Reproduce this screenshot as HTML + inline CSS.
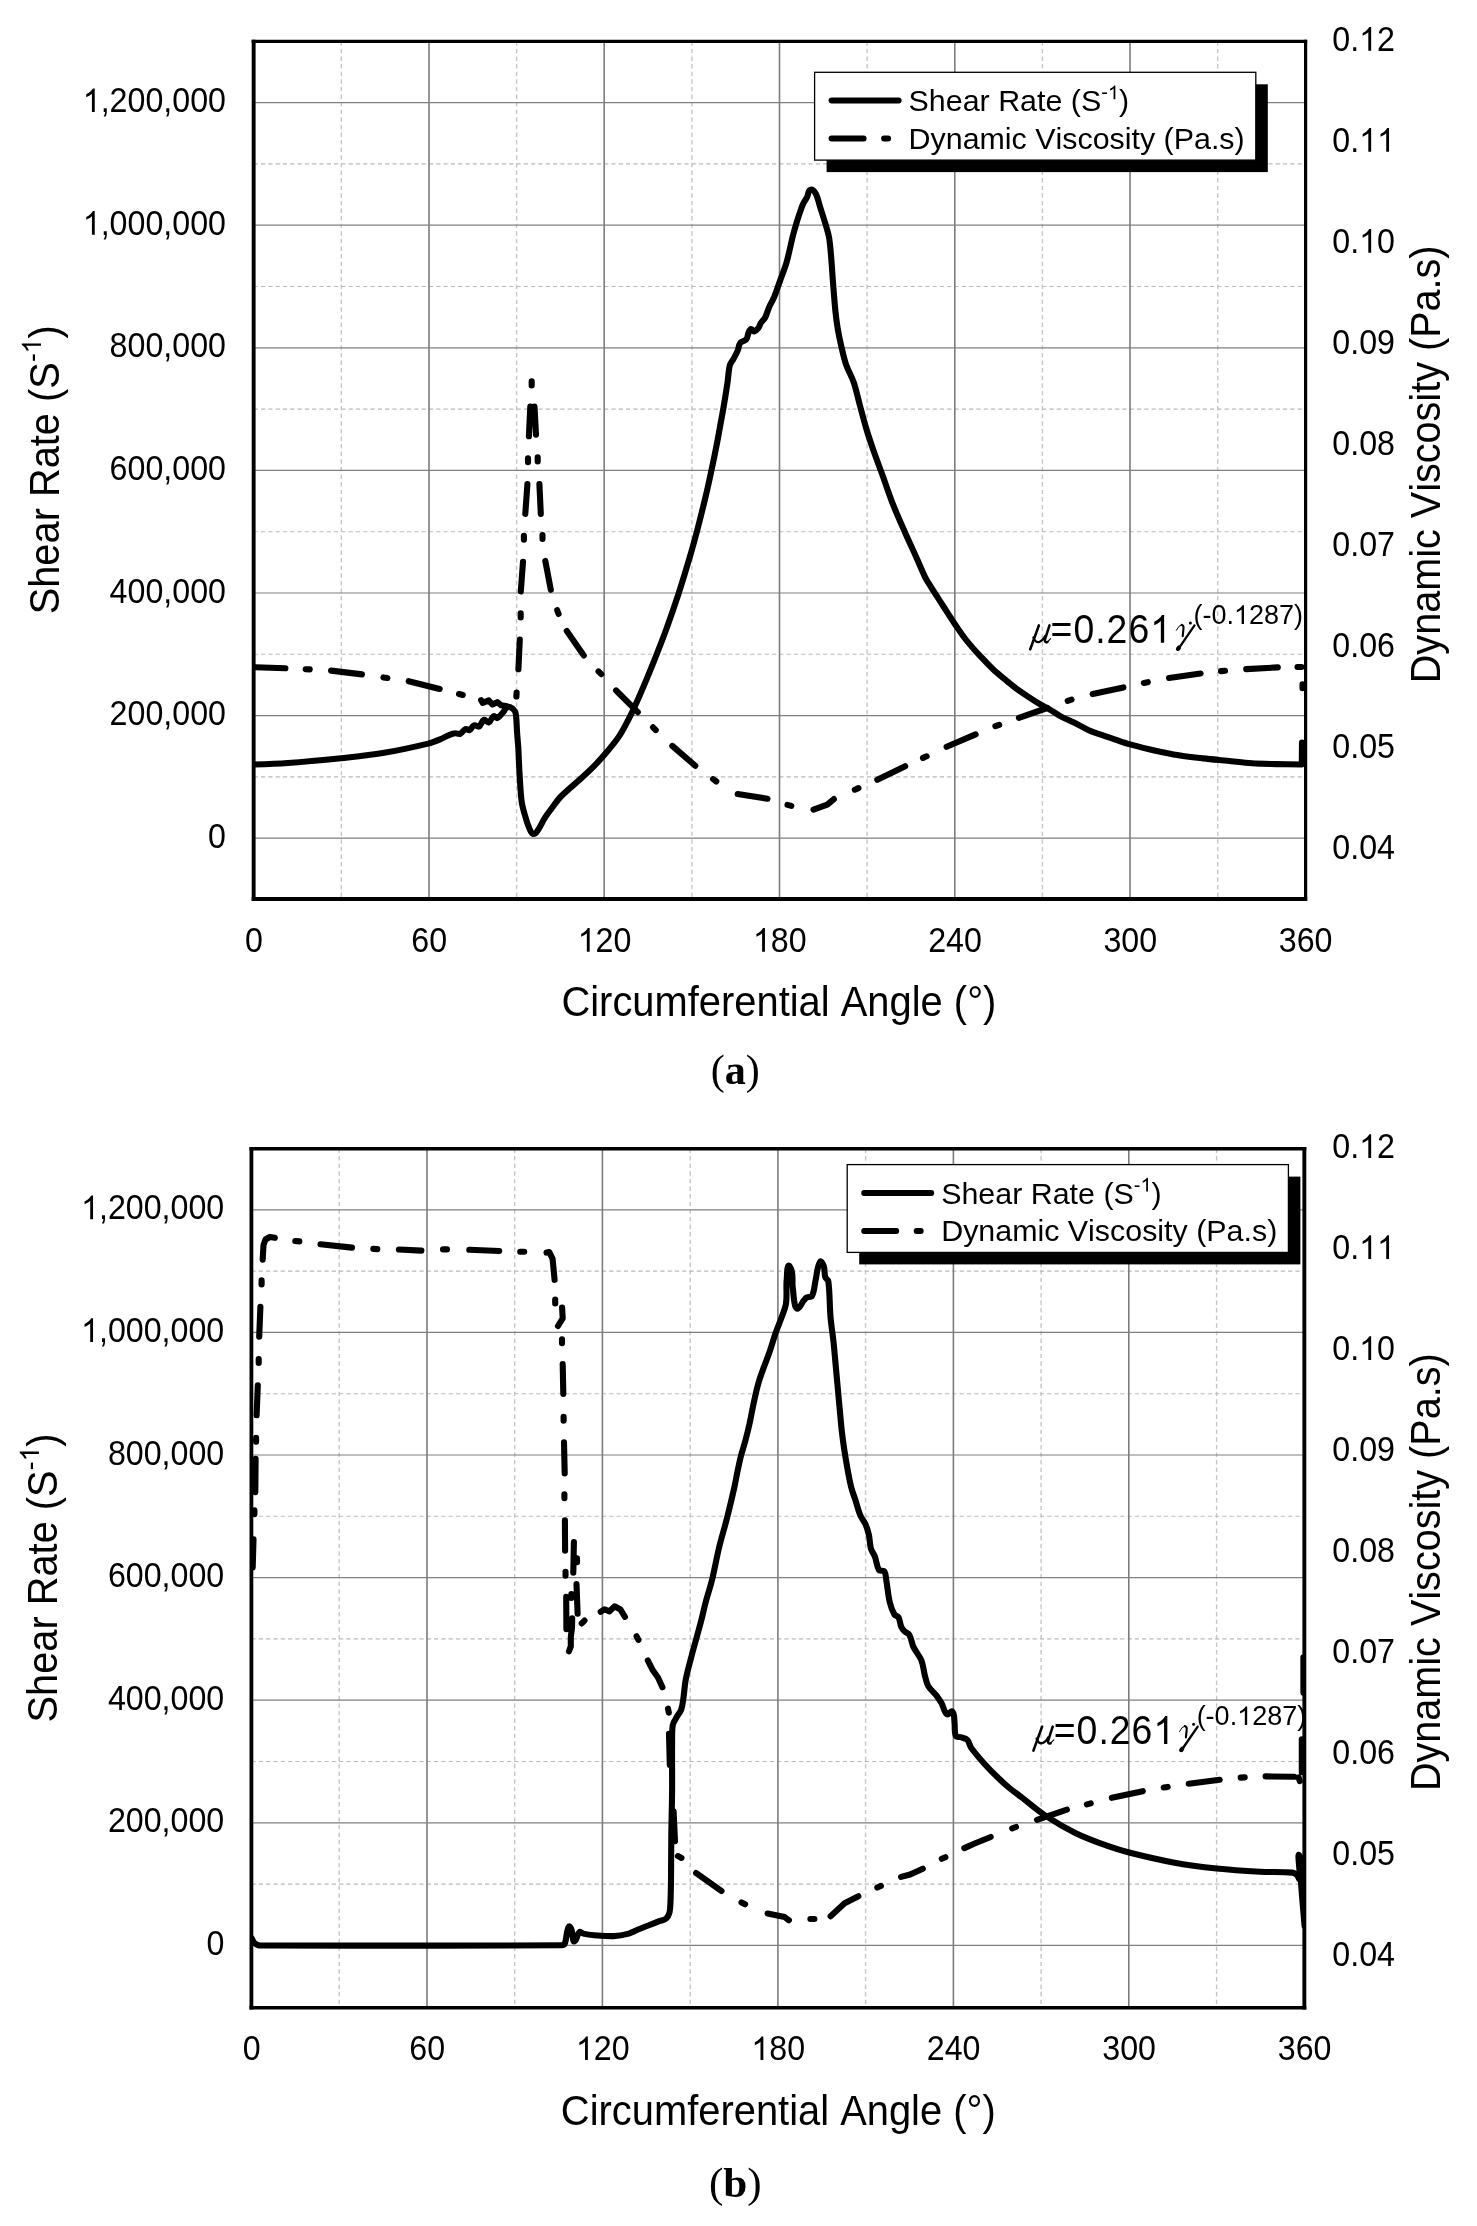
<!DOCTYPE html><html><head><meta charset="utf-8"><title>Shear rate and dynamic viscosity vs circumferential angle</title><style>html,body{margin:0;padding:0;background:#fff;}svg{display:block;}text{font-kerning:none;}svg{will-change:transform;}</style></head><body>
<svg width="1477" height="2226" viewBox="0 0 1477 2226">
<rect x="0" y="0" width="1477" height="2226" fill="#fff"/>
<g id="chart-a">
<clipPath id="clipa"><rect x="253.7" y="41.3" width="1051.6" height="858.2"/></clipPath>
<path d="M341.3,41.3V899.5M516.6,41.3V899.5M691.9,41.3V899.5M867.1,41.3V899.5M1042.4,41.3V899.5M1217.7,41.3V899.5" stroke="#c6c6c6" stroke-width="1.4" stroke-dasharray="4.4 3.2" fill="none"/>
<path d="M253.7,776.9H1305.3M253.7,654.3H1305.3M253.7,531.7H1305.3M253.7,409.1H1305.3M253.7,286.5H1305.3M253.7,163.9H1305.3" stroke="#bababa" stroke-width="1.1" stroke-dasharray="4.2 3.1" fill="none"/>
<path d="M429.0,41.3V899.5M604.2,41.3V899.5M779.5,41.3V899.5M954.8,41.3V899.5M1130.0,41.3V899.5" stroke="#7c7c7c" stroke-width="1.6" fill="none"/>
<path d="M253.7,838.2H1305.3M253.7,715.6H1305.3M253.7,593.0H1305.3M253.7,470.4H1305.3M253.7,347.8H1305.3M253.7,225.2H1305.3M253.7,102.6H1305.3" stroke="#808080" stroke-width="1.2" fill="none"/>
<path clip-path="url(#clipa)" d="M255.0,667.2 L285.4,668.3M331.1,670.6 L362.0,674.4M408.7,681.2 L439.7,689.0M481.1,700.2 L482.7,702.8 L488.8,700.4 L492.4,704.6 L497.3,702.2 L500.9,705.2 L506.0,706.0 L507.7,706.6M518.4,669.3 L519.8,639.6M520.8,591.4 L523.0,561.7M525.3,513.9 L527.4,484.1M528.9,436.3 L530.3,406.6M534.5,406.6 L536.0,434.7M539.4,484.1 L540.8,513.9M545.3,560.9 L550.8,589.8M566.8,631.0 L583.8,655.5M616.1,690.5 L637.8,712.2M672.3,745.9 L695.3,765.8M737.6,794.1 L767.5,798.7M813.5,809.7 L827.3,804.7 L833.9,799.1M877.3,779.7 L905.2,766.3M946.6,746.8 L975.6,734.4M1018.9,717.8 L1047.2,708.0M1092.7,694.1 L1123.4,687.4M1169.0,678.0 L1200.6,673.5M1246.2,669.1 L1277.8,667.4M305.7,669.2 L309.7,669.4M383.4,677.4 L387.4,678.0M459.0,694.0 L462.8,695.0M516.4,696.5 L516.6,692.5M520.7,613.4 L520.7,617.4M523.9,535.8 L523.9,539.8M528.0,458.2 L528.0,462.2M531.7,381.4 L531.7,385.4M537.7,457.4 L537.7,461.4M542.5,535.0 L542.5,539.0M557.2,610.2 L558.6,614.0M598.5,671.4 L601.3,674.2M653.0,727.3 L655.8,730.1M713.1,779.1 L716.3,781.5M787.5,804.9 L791.3,805.9M854.8,789.7 L858.4,788.1M923.0,757.9 L926.6,756.3M995.4,726.2 L999.2,724.8M1067.7,700.9 L1071.5,699.7M1143.8,683.0 L1147.8,682.2M1221.0,671.1 L1225.0,670.7M1297.5,667.0 L1301.5,667.0M1302.5,684.3 L1302.5,688.3" stroke="#000" stroke-width="6.1" fill="none" stroke-linecap="round" stroke-linejoin="round"/>
<path clip-path="url(#clipa)" d="M253.7,764.5C253.7,764.5 276.5,763.8 287.9,763.0C305.6,761.7 323.3,760.0 341.0,758.2C354.9,756.7 368.9,755.4 382.7,753.1C398.0,750.5 413.1,747.2 428.2,743.6C432.3,742.6 436.1,741.0 440.0,739.4C443.1,738.1 446.0,736.3 449.1,735.1C451.1,734.3 453.1,733.5 455.2,733.3C456.8,733.1 458.6,734.5 460.1,733.9C462.4,733.0 463.3,729.9 465.6,729.0C466.8,728.5 468.1,730.7 469.3,730.2C471.4,729.3 472.0,726.1 474.1,725.3C475.7,724.7 477.5,727.4 479.0,726.6C481.4,725.3 481.4,721.0 483.9,719.9C485.6,719.2 487.1,722.9 488.8,722.3C491.2,721.4 491.3,717.4 493.6,716.2C494.8,715.6 496.1,718.6 497.3,718.0C500.2,716.7 501.9,713.7 504.0,711.3C504.8,710.4 504.8,709.0 505.8,708.3C507.0,707.5 508.7,706.6 510.1,707.1C512.1,707.8 513.9,709.4 515.0,711.3C516.1,713.1 516.0,715.3 516.2,717.4C516.7,722.5 516.7,727.6 517.1,732.7C517.4,737.7 518.0,742.7 518.3,747.7C518.8,756.7 519.0,765.8 519.6,774.8C520.2,783.8 520.5,792.9 521.7,801.9C522.4,806.9 523.9,811.7 525.3,816.5C526.4,820.5 527.6,824.5 529.3,828.3C530.3,830.4 531.0,833.5 533.3,834.0C535.2,834.4 536.7,831.8 537.9,830.2C540.6,826.4 542.2,822.0 544.7,818.1C546.8,814.8 549.2,811.7 551.5,808.6C554.6,804.5 557.3,800.2 560.9,796.5C567.3,790.0 574.5,784.4 581.2,778.2C585.8,774.0 590.4,769.8 594.8,765.3C599.0,761.0 603.1,756.4 607.0,751.8C611.2,746.7 615.6,741.7 619.2,736.2C623.2,730.1 626.5,723.5 629.8,716.9C633.5,709.6 636.8,702.0 640.1,694.5C644.5,684.4 648.7,674.3 652.8,664.1C657.4,652.6 662.0,641.1 666.2,629.5C670.6,617.4 674.8,605.2 678.8,593.0C682.5,581.5 686.0,570.0 689.4,558.4C692.2,549.0 694.8,539.5 697.3,530.0C699.9,520.0 702.4,510.0 704.8,500.0C707.2,490.1 709.4,480.1 711.5,470.1C713.6,460.3 715.6,450.5 717.5,440.6C719.6,429.6 721.6,418.6 723.5,407.6C724.9,399.5 726.2,391.4 727.4,383.3C728.3,377.2 728.4,371.0 729.9,365.0C730.5,362.7 732.4,361.0 733.5,358.9C735.0,356.1 736.6,353.3 737.8,350.4C738.8,348.0 738.6,345.1 740.2,343.0C741.6,341.1 744.8,341.3 746.3,339.4C747.9,337.4 747.6,334.4 748.7,332.1C749.3,330.9 749.9,329.1 751.2,329.0C752.5,328.9 752.9,331.7 754.2,331.5C756.1,331.2 757.3,329.3 758.5,327.8C759.6,326.4 759.9,324.4 760.9,322.9C762.2,321.0 764.1,319.5 765.2,317.5C766.8,314.4 767.5,310.9 768.9,307.7C770.5,304.0 772.7,300.5 774.3,296.7C776.6,291.1 778.4,285.4 780.4,279.7C782.4,274.0 784.8,268.4 786.5,262.6C788.9,254.2 790.5,245.5 792.6,237.0C793.7,232.5 795.0,228.0 796.3,223.6C797.8,218.7 799.4,213.8 801.1,209.0C801.8,206.9 802.6,204.9 803.6,202.9C804.7,200.8 806.1,198.9 807.2,196.8C808.4,194.5 807.9,190.6 810.3,189.8C812.4,189.1 814.7,191.8 815.8,193.8C818.0,197.7 818.6,202.3 820.0,206.6C822.1,213.1 824.2,219.6 826.1,226.1C827.3,230.1 828.5,234.1 829.2,238.2C830.1,243.9 830.5,249.6 831.0,255.3C831.7,263.4 832.2,271.6 832.8,279.7C833.6,289.8 834.3,300.0 835.3,310.1C835.9,316.2 836.7,322.3 837.7,328.4C838.7,334.5 840.0,340.6 841.4,346.7C842.8,352.8 844.1,359.0 846.2,365.0C848.3,370.9 851.7,376.3 853.7,382.3C856.2,389.7 857.7,397.4 859.8,405.0C862.1,413.3 864.2,421.7 866.7,430.0C868.9,437.4 871.5,444.7 874.0,452.0C876.5,459.1 879.2,466.2 881.8,473.3C885.5,483.4 888.8,493.7 892.7,503.7C896.7,513.9 901.3,523.9 905.7,534.0C908.9,541.2 912.3,548.3 915.5,555.5C918.8,562.8 921.7,570.2 925.2,577.3C927.1,581.1 929.5,584.6 931.7,588.2C935.6,594.4 939.6,600.4 943.5,606.5C947.5,612.7 951.4,618.9 955.5,625.0C958.6,629.6 961.6,634.1 965.0,638.5C968.3,642.8 971.9,646.9 975.5,651.0C978.9,654.8 982.4,658.4 986.0,662.0C989.5,665.6 993.0,669.2 996.7,672.6C1000.2,675.7 1003.9,678.6 1007.5,681.5C1011.1,684.4 1014.6,687.3 1018.3,690.0C1021.8,692.5 1025.4,694.8 1029.0,697.2C1032.6,699.6 1036.3,702.0 1040.0,704.2C1043.8,706.4 1047.7,708.4 1051.5,710.6C1054.5,712.3 1057.2,714.5 1060.3,716.1C1064.7,718.5 1069.4,720.3 1073.9,722.5C1078.9,725.0 1083.6,727.9 1088.7,730.2C1092.6,732.0 1096.8,733.2 1100.9,734.7C1105.4,736.3 1109.9,737.9 1114.5,739.4C1119.7,741.1 1124.8,742.9 1130.0,744.4C1138.1,746.6 1146.2,748.7 1154.4,750.5C1162.5,752.3 1170.6,754.0 1178.7,755.3C1186.8,756.6 1195.0,757.5 1203.1,758.4C1211.2,759.3 1219.4,760.0 1227.5,760.8C1235.6,761.6 1243.7,762.7 1251.9,763.3C1260.0,763.8 1268.1,763.9 1276.2,764.1C1284.7,764.3 1301.8,764.5 1301.8,764.5M1301.8,764.5 L1302.0,742.5" stroke="#000" stroke-width="6.1" fill="none" stroke-linecap="round" stroke-linejoin="round"/>
<path d="M251.70,41.40H1307.20" stroke="#000" stroke-width="3.1"/>
<path d="M251.70,898.95H1307.20" stroke="#000" stroke-width="4.1"/>
<path d="M253.65,39.85V901.00" stroke="#000" stroke-width="3.9"/>
<path d="M1305.60,39.85V901.00" stroke="#000" stroke-width="3.2"/>
<g transform="translate(226.00,847.70) scale(1,1.07)" font-family='"Liberation Sans", sans-serif'><text x="-17.91" y="0.00" font-size="32.2" >0</text></g>
<g transform="translate(226.00,725.10) scale(1,1.07)" font-family='"Liberation Sans", sans-serif'><text x="-116.39" y="0.00" font-size="32.2" >200,000</text></g>
<g transform="translate(226.00,602.50) scale(1,1.07)" font-family='"Liberation Sans", sans-serif'><text x="-116.39" y="0.00" font-size="32.2" >400,000</text></g>
<g transform="translate(226.00,479.90) scale(1,1.07)" font-family='"Liberation Sans", sans-serif'><text x="-116.39" y="0.00" font-size="32.2" >600,000</text></g>
<g transform="translate(226.00,357.30) scale(1,1.07)" font-family='"Liberation Sans", sans-serif'><text x="-116.39" y="0.00" font-size="32.2" >800,000</text></g>
<g transform="translate(226.00,234.70) scale(1,1.07)" font-family='"Liberation Sans", sans-serif'><text x="-143.25" y="0.00" font-size="32.2" > ,000,000</text><path transform="translate(-143.25,0.00) scale(0.01572,-0.01572)" d="M763 0L583 0L583 1098Q518 1038 412 979Q306 920 222 890L222 1057Q373 1125 486 1221Q599 1318 646 1409L763 1409Z"/></g>
<g transform="translate(226.00,112.10) scale(1,1.07)" font-family='"Liberation Sans", sans-serif'><text x="-143.25" y="0.00" font-size="32.2" > ,200,000</text><path transform="translate(-143.25,0.00) scale(0.01572,-0.01572)" d="M763 0L583 0L583 1098Q518 1038 412 979Q306 920 222 890L222 1057Q373 1125 486 1221Q599 1318 646 1409L763 1409Z"/></g>
<g transform="translate(1332.30,858.52) scale(1,1.07)" font-family='"Liberation Sans", sans-serif'><text x="0.00" y="0.00" font-size="32.2" >0.04</text></g>
<g transform="translate(1332.30,757.55) scale(1,1.07)" font-family='"Liberation Sans", sans-serif'><text x="0.00" y="0.00" font-size="32.2" >0.05</text></g>
<g transform="translate(1332.30,656.59) scale(1,1.07)" font-family='"Liberation Sans", sans-serif'><text x="0.00" y="0.00" font-size="32.2" >0.06</text></g>
<g transform="translate(1332.30,555.62) scale(1,1.07)" font-family='"Liberation Sans", sans-serif'><text x="0.00" y="0.00" font-size="32.2" >0.07</text></g>
<g transform="translate(1332.30,454.66) scale(1,1.07)" font-family='"Liberation Sans", sans-serif'><text x="0.00" y="0.00" font-size="32.2" >0.08</text></g>
<g transform="translate(1332.30,353.69) scale(1,1.07)" font-family='"Liberation Sans", sans-serif'><text x="0.00" y="0.00" font-size="32.2" >0.09</text></g>
<g transform="translate(1332.30,252.73) scale(1,1.07)" font-family='"Liberation Sans", sans-serif'><text x="0.00" y="0.00" font-size="32.2" >0. 0</text><path transform="translate(26.85,0.00) scale(0.01572,-0.01572)" d="M763 0L583 0L583 1098Q518 1038 412 979Q306 920 222 890L222 1057Q373 1125 486 1221Q599 1318 646 1409L763 1409Z"/></g>
<g transform="translate(1332.30,151.76) scale(1,1.07)" font-family='"Liberation Sans", sans-serif'><text x="0.00" y="0.00" font-size="32.2" >0.  </text><path transform="translate(26.85,0.00) scale(0.01572,-0.01572)" d="M763 0L583 0L583 1098Q518 1038 412 979Q306 920 222 890L222 1057Q373 1125 486 1221Q599 1318 646 1409L763 1409Z"/><path transform="translate(44.76,0.00) scale(0.01572,-0.01572)" d="M763 0L583 0L583 1098Q518 1038 412 979Q306 920 222 890L222 1057Q373 1125 486 1221Q599 1318 646 1409L763 1409Z"/></g>
<g transform="translate(1332.30,50.80) scale(1,1.07)" font-family='"Liberation Sans", sans-serif'><text x="0.00" y="0.00" font-size="32.2" >0. 2</text><path transform="translate(26.85,0.00) scale(0.01572,-0.01572)" d="M763 0L583 0L583 1098Q518 1038 412 979Q306 920 222 890L222 1057Q373 1125 486 1221Q599 1318 646 1409L763 1409Z"/></g>
<g transform="translate(254.00,951.70) scale(1,1.07)" font-family='"Liberation Sans", sans-serif'><text x="-8.95" y="0.00" font-size="32.2" >0</text></g>
<g transform="translate(429.27,951.70) scale(1,1.07)" font-family='"Liberation Sans", sans-serif'><text x="-17.91" y="0.00" font-size="32.2" >60</text></g>
<g transform="translate(604.53,951.70) scale(1,1.07)" font-family='"Liberation Sans", sans-serif'><text x="-26.86" y="0.00" font-size="32.2" > 20</text><path transform="translate(-26.86,0.00) scale(0.01572,-0.01572)" d="M763 0L583 0L583 1098Q518 1038 412 979Q306 920 222 890L222 1057Q373 1125 486 1221Q599 1318 646 1409L763 1409Z"/></g>
<g transform="translate(779.80,951.70) scale(1,1.07)" font-family='"Liberation Sans", sans-serif'><text x="-26.86" y="0.00" font-size="32.2" > 80</text><path transform="translate(-26.86,0.00) scale(0.01572,-0.01572)" d="M763 0L583 0L583 1098Q518 1038 412 979Q306 920 222 890L222 1057Q373 1125 486 1221Q599 1318 646 1409L763 1409Z"/></g>
<g transform="translate(955.07,951.70) scale(1,1.07)" font-family='"Liberation Sans", sans-serif'><text x="-26.86" y="0.00" font-size="32.2" >240</text></g>
<g transform="translate(1130.33,951.70) scale(1,1.07)" font-family='"Liberation Sans", sans-serif'><text x="-26.86" y="0.00" font-size="32.2" >300</text></g>
<g transform="translate(1305.60,951.70) scale(1,1.07)" font-family='"Liberation Sans", sans-serif'><text x="-26.86" y="0.00" font-size="32.2" >360</text></g>
<text transform="translate(778.90,1016.40) scale(1,1.055)" font-family='"Liberation Sans", sans-serif' font-size="39.9" text-anchor="middle" >Circumferential Angle (°)</text>
<g transform="translate(58.80,469.80) rotate(-90) scale(1,1.05)" font-family='"Liberation Sans", sans-serif'><text x="-144.50" y="0.00" font-size="39.8" >Shear Rate (S</text><text x="107.69" y="-17.00" font-size="26.5" >- </text><text x="131.25" y="0.00" font-size="39.8" >)</text><path transform="translate(116.51,-17.00) scale(0.01294,-0.01294)" d="M763 0L583 0L583 1098Q518 1038 412 979Q306 920 222 890L222 1057Q373 1125 486 1221Q599 1318 646 1409L763 1409Z"/></g>
<text transform="translate(1440.30,464.35) rotate(-90) scale(1,1.05)" font-family='"Liberation Sans", sans-serif' font-size="39.6" text-anchor="middle" >Dynamic Viscosity (Pa.s)</text>
<text transform="translate(735.30,1084.00) scale(1,1.0)" font-family='"Liberation Serif", serif' font-size="42.2" text-anchor="middle" >(<tspan font-weight="bold">a</tspan>)</text>
<rect x="826.6" y="84.3" width="441.2" height="87.8" fill="#000"/>
<rect x="814.6" y="72.3" width="441.2" height="87.8" fill="#fff" stroke="#000" stroke-width="1.3"/>
<path d="M831.6,100.6H898.6" stroke="#000" stroke-width="6" stroke-linecap="round"/>
<path d="M831.6,138.6H863.6M884.1,138.6H888.1" stroke="#000" stroke-width="6" stroke-linecap="round"/>
<g transform="translate(908.60,111.20) scale(1,1.0)" font-family='"Liberation Sans", sans-serif'><text x="0.00" y="0.00" font-size="30.4" >Shear Rate (S</text><text x="192.63" y="-12.00" font-size="20" >- </text><text x="210.41" y="0.00" font-size="30.4" >)</text><path transform="translate(199.29,-12.00) scale(0.00977,-0.00977)" d="M763 0L583 0L583 1098Q518 1038 412 979Q306 920 222 890L222 1057Q373 1125 486 1221Q599 1318 646 1409L763 1409Z"/></g>
<text transform="translate(908.60,149.10) scale(1,1.0)" font-family='"Liberation Sans", sans-serif' font-size="30.4" text-anchor="start" >Dynamic Viscosity (Pa.s)</text>
<g transform="translate(0.00,0.00)" fill="none" stroke="#000" stroke-linecap="round"><path d="M1038.9,625.4 L1030.2,649.4" stroke-width="2.6"/><path d="M1033.4,637.5 Q1035.2,643.2 1039.6,641.8 Q1043,640.4 1045.2,636" stroke-width="2.3"/><path d="M1049.5,625.4 L1044.9,639.6 Q1044.6,643 1047.4,642" stroke-width="2.5"/><path d="M1047.4,642 L1050.6,638.6" stroke-width="1.1"/></g>
<g transform="translate(1050.57,642.80) scale(1,1.085)" font-family='"Liberation Sans", sans-serif'><text x="0.00" y="0.00" font-size="37.4" letter-spacing="1.0" >=0.26 </text><path transform="translate(99.63,0.00) scale(0.01826,-0.01826)" d="M763 0L583 0L583 1098Q518 1038 412 979Q306 920 222 890L222 1057Q373 1125 486 1221Q599 1318 646 1409L763 1409Z"/></g>
<g transform="translate(0.00,0.00)" fill="none" stroke="#000" stroke-linecap="round"><path d="M1176.3,630.3 Q1178.8,624.9 1181.9,624.8" stroke-width="1.0"/><path d="M1181.6,624.9 Q1184.1,625.4 1183.4,629.5 L1182.7,636.2" stroke-width="2.1"/><path d="M1194.5,625.4 L1179.8,646.8" stroke-width="2.3"/><ellipse cx="1178.5" cy="648.2" rx="2.2" ry="3.0" transform="rotate(35 1178.5 648.2)" fill="#000" stroke="none"/><circle cx="1190.4" cy="623.1" r="1.5" fill="#000" stroke="none"/></g>
<g transform="translate(1193.43,623.90) scale(1,1.0)" font-family='"Liberation Sans", sans-serif'><text x="0.00" y="0.00" font-size="27.0" >(-0. 287)</text><path transform="translate(40.50,0.00) scale(0.01318,-0.01318)" d="M763 0L583 0L583 1098Q518 1038 412 979Q306 920 222 890L222 1057Q373 1125 486 1221Q599 1318 646 1409L763 1409Z"/></g>
</g>
<g id="chart-b">
<clipPath id="clipb"><rect x="251.5" y="1148.5" width="1052.8" height="858.2"/></clipPath>
<path d="M339.2,1148.5V2006.7M514.7,1148.5V2006.7M690.2,1148.5V2006.7M865.6,1148.5V2006.7M1041.1,1148.5V2006.7M1216.6,1148.5V2006.7" stroke="#c6c6c6" stroke-width="1.4" stroke-dasharray="4.4 3.2" fill="none"/>
<path d="M251.5,1884.1H1304.3M251.5,1761.5H1304.3M251.5,1638.9H1304.3M251.5,1516.3H1304.3M251.5,1393.7H1304.3M251.5,1271.1H1304.3" stroke="#bababa" stroke-width="1.1" stroke-dasharray="4.2 3.1" fill="none"/>
<path d="M427.0,1148.5V2006.7M602.4,1148.5V2006.7M777.9,1148.5V2006.7M953.4,1148.5V2006.7M1128.8,1148.5V2006.7" stroke="#7c7c7c" stroke-width="1.6" fill="none"/>
<path d="M251.5,1945.4H1304.3M251.5,1822.8H1304.3M251.5,1700.2H1304.3M251.5,1577.6H1304.3M251.5,1455.0H1304.3M251.5,1332.4H1304.3M251.5,1209.8H1304.3" stroke="#808080" stroke-width="1.2" fill="none"/>
<path clip-path="url(#clipb)" d="M252.7,1567.4 L253.5,1539.3M255.3,1492.2 L255.6,1458.9M256.6,1415.3 L257.8,1385.4M259.2,1336.7 L260.4,1306.8M262.7,1259.7 L263.5,1245.0 L265.5,1239.5 L269.8,1237.0 L274.9,1237.8M320.5,1244.2 L352.0,1247.6M398.9,1249.5 L421.4,1250.6M469.3,1249.8 L499.2,1251.0M546.5,1252.6 L549.3,1252.1 L552.6,1258.9 L554.6,1279.9M562.1,1307.5 L562.7,1318.4 L558.0,1326.0M562.7,1364.1 L563.3,1393.9M564.0,1442.3 L564.7,1473.4M564.9,1520.3 L565.1,1550.7M566.2,1596.8 L566.4,1629.2M572.2,1618.3 L572.0,1627.5 L570.8,1637.0 L570.8,1646.4 L569.0,1651.3M573.3,1572.7 L573.9,1542.0M576.5,1584.1 L577.6,1613.6M600.7,1611.8 L604.5,1609.3 L609.5,1611.4 L614.5,1606.3 L620.5,1609.5 L624.9,1616.9M647.8,1660.4 L652.7,1670.1 L658.1,1677.7 L662.4,1687.3M669.0,1733.8 L669.8,1764.8M673.6,1811.3 L675.0,1841.1M696.1,1873.0 L721.5,1891.0M767.6,1913.5 L784.7,1917.1 L788.9,1920.2M830.6,1916.2 L844.6,1903.3 L858.4,1896.3M901.1,1876.9 L910.2,1874.5 L922.8,1868.7M964.3,1848.1 L974.7,1843.5 L990.7,1837.0M1037.0,1819.8 L1066.9,1809.7M1111.8,1797.8 L1142.8,1791.2M1188.7,1783.8 L1219.7,1779.8M1265.6,1776.4 L1294.2,1776.8M1301.8,1772.2 L1301.8,1739.3M1303.4,1692.7 L1303.4,1657.3M254.4,1510.3 L254.4,1514.3M256.1,1437.7 L256.1,1441.7M258.7,1359.0 L258.7,1363.0M261.6,1280.4 L261.6,1284.4M295.3,1241.0 L299.3,1241.4M373.3,1248.9 L377.3,1249.1M443.0,1249.4 L447.0,1249.4M520.2,1251.8 L524.2,1251.8M555.2,1299.5 L555.2,1303.5M562.0,1339.3 L562.0,1343.3M563.6,1416.8 L563.6,1420.8M564.4,1494.2 L564.4,1498.2M565.5,1571.7 L565.5,1575.7M577.0,1558.2 L577.0,1562.2M571.4,1594.0 L571.4,1598.0M581.7,1623.4 L584.5,1620.6M636.6,1636.3 L638.4,1639.9M668.0,1708.7 L668.8,1712.7M677.9,1856.1 L681.5,1857.9M741.5,1902.4 L745.1,1904.2M810.4,1919.0 L814.4,1919.0M877.3,1887.5 L880.9,1885.9M941.8,1858.8 L945.4,1857.2M1012.2,1828.4 L1016.0,1827.0M1086.9,1804.4 L1090.7,1803.4M1163.7,1787.5 L1167.7,1786.9M1240.7,1777.6 L1244.7,1777.4M1298.6,1777.3 L1299.8,1781.1" stroke="#000" stroke-width="6.1" fill="none" stroke-linecap="round" stroke-linejoin="round"/>
<path clip-path="url(#clipb)" d="M251.8,1938.5C251.8,1938.5 253.0,1941.4 254.0,1942.5C255.1,1943.7 256.5,1944.6 258.0,1945.2C259.3,1945.7 260.7,1945.5 262.0,1945.5C361.9,1945.5 461.8,1946.0 561.7,1945.3C562.9,1945.3 564.5,1944.6 564.9,1943.4C566.5,1939.1 566.3,1934.2 567.6,1929.8C568.0,1928.6 568.6,1926.0 569.8,1926.6C571.5,1927.5 571.5,1930.1 572.0,1932.0C572.8,1935.0 572.3,1938.4 573.6,1941.2C573.9,1941.9 575.3,1940.8 575.7,1940.1C577.3,1937.6 577.2,1933.9 579.5,1932.0C580.5,1931.1 582.0,1933.3 583.3,1933.6C586.9,1934.4 590.5,1934.9 594.2,1935.2C600.7,1935.7 607.2,1936.4 613.7,1936.1C618.8,1935.9 623.9,1934.9 628.8,1933.6C631.9,1932.8 634.6,1931.0 637.5,1929.8C641.1,1928.3 644.7,1926.9 648.3,1925.5C651.9,1924.1 655.6,1922.6 659.2,1921.2C661.5,1920.3 664.3,1920.1 666.2,1918.5C667.9,1917.0 668.9,1914.7 669.5,1912.5C670.4,1909.0 670.3,1905.3 670.5,1901.7C670.8,1894.5 670.9,1887.2 671.0,1880.0C671.2,1864.9 671.1,1849.9 671.3,1834.8C671.5,1819.5 672.0,1804.3 672.1,1789.0C672.2,1773.7 671.9,1758.5 672.1,1743.2C672.2,1737.1 671.8,1730.9 672.8,1724.9C673.3,1722.1 675.2,1719.8 676.6,1717.3C678.0,1714.7 680.2,1712.4 681.2,1709.6C682.6,1705.7 682.9,1701.5 683.5,1697.4C684.4,1691.3 684.6,1685.1 685.8,1679.1C687.4,1670.9 689.8,1662.8 691.9,1654.7C694.9,1643.5 698.2,1632.3 701.1,1621.1C702.9,1614.4 704.2,1607.7 706.0,1601.0C707.9,1594.0 710.3,1587.1 712.0,1580.0C714.7,1568.9 716.6,1557.7 719.3,1546.6C721.5,1537.7 724.2,1529.0 726.5,1520.1C729.2,1509.4 731.8,1498.7 734.2,1488.0C735.5,1482.3 736.4,1476.6 737.6,1470.9C738.7,1465.8 739.7,1460.7 741.0,1455.7C742.3,1450.8 744.0,1445.9 745.3,1441.0C746.8,1435.3 748.2,1429.6 749.5,1423.9C750.8,1418.3 751.7,1412.6 752.9,1406.9C753.8,1402.6 754.7,1398.3 755.7,1394.0C756.7,1389.7 757.7,1385.4 759.0,1381.2C760.3,1376.9 761.9,1372.6 763.4,1368.4C765.5,1362.7 767.8,1357.1 769.8,1351.3C771.9,1345.3 773.5,1339.1 775.6,1333.0C777.0,1329.0 778.7,1325.2 780.1,1321.2C782.2,1315.3 785.0,1309.6 786.0,1303.4C787.2,1295.6 785.9,1287.6 786.7,1279.7C787.2,1275.1 786.8,1262.7 789.7,1266.3C794.1,1271.7 791.8,1280.2 792.7,1287.1C793.5,1293.0 793.5,1299.1 794.9,1304.9C795.3,1306.4 796.5,1309.3 797.9,1308.6C800.9,1307.1 801.7,1303.0 803.8,1300.4C804.7,1299.3 805.6,1298.1 806.8,1297.4C808.4,1296.6 811.2,1297.6 812.0,1296.0C814.5,1291.0 814.4,1285.1 815.7,1279.7C817.1,1273.8 816.9,1267.1 820.1,1261.9C821.1,1260.3 823.2,1264.5 823.8,1266.3C825.0,1269.8 824.2,1273.8 825.3,1277.4C825.8,1278.9 828.1,1279.5 828.3,1281.1C829.9,1292.9 829.5,1304.9 830.5,1316.7C831.2,1325.1 832.6,1333.5 833.5,1341.9C834.6,1352.3 835.4,1362.7 836.4,1373.1C837.4,1384.0 838.4,1394.8 839.4,1405.7C840.3,1415.6 841.1,1425.5 842.3,1435.4C843.5,1445.3 845.1,1455.2 846.8,1465.0C848.1,1472.4 849.4,1479.9 851.2,1487.2C852.3,1491.6 854.0,1495.7 855.4,1500.0C857.0,1504.9 858.1,1510.0 860.1,1514.8C861.5,1518.2 864.0,1521.0 865.5,1524.3C867.0,1527.7 868.1,1531.3 868.9,1535.0C869.9,1539.4 869.7,1544.1 870.9,1548.5C871.7,1551.4 873.8,1553.8 874.9,1556.6C876.6,1561.0 876.5,1566.1 879.0,1570.1C880.0,1571.7 883.4,1569.9 884.4,1571.4C886.2,1574.1 885.8,1577.7 886.4,1580.9C887.6,1588.0 888.1,1595.3 889.8,1602.4C890.8,1606.6 892.3,1610.8 894.5,1614.6C895.3,1616.0 897.7,1615.9 898.5,1617.3C900.1,1620.2 899.9,1623.7 901.2,1626.7C902.0,1628.5 903.2,1630.0 904.6,1631.4C906.0,1632.8 908.3,1633.1 909.3,1634.8C911.4,1638.5 911.6,1643.0 913.4,1646.9C915.6,1651.6 919.4,1655.5 921.4,1660.4C923.3,1665.1 923.5,1670.3 924.8,1675.2C925.8,1678.8 926.3,1682.7 928.2,1686.0C930.2,1689.6 933.8,1692.1 936.3,1695.4C938.3,1698.0 940.1,1700.7 941.7,1703.5C943.7,1707.0 943.8,1711.9 947.0,1714.3C948.6,1715.5 951.0,1710.1 952.4,1711.6C954.9,1714.3 954.0,1718.8 954.5,1722.4C955.1,1726.9 954.1,1731.7 955.8,1735.9C956.4,1737.4 959.0,1736.7 960.5,1737.2C962.8,1738.0 965.6,1738.2 967.3,1739.9C969.4,1742.0 969.5,1745.6 971.3,1748.0C975.4,1753.7 980.1,1759.0 984.8,1764.2C989.3,1769.2 994.0,1773.9 998.8,1778.5C1002.4,1782.0 1006.1,1785.3 1010.0,1788.5C1013.8,1791.6 1017.8,1794.4 1021.7,1797.4C1029.6,1803.5 1037.1,1810.3 1045.5,1815.8C1055.2,1822.2 1065.3,1828.1 1075.8,1833.2C1086.3,1838.3 1097.3,1842.3 1108.3,1846.2C1115.4,1848.8 1122.7,1850.9 1130.0,1852.7C1144.4,1856.3 1158.7,1859.7 1173.3,1862.4C1187.7,1865.0 1202.2,1866.9 1216.7,1868.5C1231.1,1870.0 1245.5,1870.9 1260.0,1871.7C1270.8,1872.3 1281.7,1871.6 1292.5,1872.6C1294.2,1872.8 1295.7,1873.9 1297.0,1875.0C1298.2,1876.1 1299.3,1880.6 1299.5,1879.0C1300.6,1871.4 1296.4,1849.1 1299.8,1856.0C1303.7,1863.8 1300.4,1873.3 1301.0,1882.0C1302.0,1896.7 1304.6,1926.0 1304.6,1926.0" stroke="#000" stroke-width="6.1" fill="none" stroke-linecap="round" stroke-linejoin="round"/>
<path d="M249.50,1148.65H1306.30" stroke="#000" stroke-width="3.5"/>
<path d="M249.50,2007.80H1306.30" stroke="#000" stroke-width="3.6"/>
<path d="M251.40,1146.90V2009.60" stroke="#000" stroke-width="3.8"/>
<path d="M1304.35,1146.90V2009.60" stroke="#000" stroke-width="3.9"/>
<g transform="translate(224.30,1954.90) scale(1,1.07)" font-family='"Liberation Sans", sans-serif'><text x="-17.91" y="0.00" font-size="32.2" >0</text></g>
<g transform="translate(224.30,1832.30) scale(1,1.07)" font-family='"Liberation Sans", sans-serif'><text x="-116.39" y="0.00" font-size="32.2" >200,000</text></g>
<g transform="translate(224.30,1709.70) scale(1,1.07)" font-family='"Liberation Sans", sans-serif'><text x="-116.39" y="0.00" font-size="32.2" >400,000</text></g>
<g transform="translate(224.30,1587.10) scale(1,1.07)" font-family='"Liberation Sans", sans-serif'><text x="-116.39" y="0.00" font-size="32.2" >600,000</text></g>
<g transform="translate(224.30,1464.50) scale(1,1.07)" font-family='"Liberation Sans", sans-serif'><text x="-116.39" y="0.00" font-size="32.2" >800,000</text></g>
<g transform="translate(224.30,1341.90) scale(1,1.07)" font-family='"Liberation Sans", sans-serif'><text x="-143.25" y="0.00" font-size="32.2" > ,000,000</text><path transform="translate(-143.25,0.00) scale(0.01572,-0.01572)" d="M763 0L583 0L583 1098Q518 1038 412 979Q306 920 222 890L222 1057Q373 1125 486 1221Q599 1318 646 1409L763 1409Z"/></g>
<g transform="translate(224.30,1219.30) scale(1,1.07)" font-family='"Liberation Sans", sans-serif'><text x="-143.25" y="0.00" font-size="32.2" > ,200,000</text><path transform="translate(-143.25,0.00) scale(0.01572,-0.01572)" d="M763 0L583 0L583 1098Q518 1038 412 979Q306 920 222 890L222 1057Q373 1125 486 1221Q599 1318 646 1409L763 1409Z"/></g>
<g transform="translate(1332.30,1965.72) scale(1,1.07)" font-family='"Liberation Sans", sans-serif'><text x="0.00" y="0.00" font-size="32.2" >0.04</text></g>
<g transform="translate(1332.30,1864.75) scale(1,1.07)" font-family='"Liberation Sans", sans-serif'><text x="0.00" y="0.00" font-size="32.2" >0.05</text></g>
<g transform="translate(1332.30,1763.79) scale(1,1.07)" font-family='"Liberation Sans", sans-serif'><text x="0.00" y="0.00" font-size="32.2" >0.06</text></g>
<g transform="translate(1332.30,1662.82) scale(1,1.07)" font-family='"Liberation Sans", sans-serif'><text x="0.00" y="0.00" font-size="32.2" >0.07</text></g>
<g transform="translate(1332.30,1561.86) scale(1,1.07)" font-family='"Liberation Sans", sans-serif'><text x="0.00" y="0.00" font-size="32.2" >0.08</text></g>
<g transform="translate(1332.30,1460.89) scale(1,1.07)" font-family='"Liberation Sans", sans-serif'><text x="0.00" y="0.00" font-size="32.2" >0.09</text></g>
<g transform="translate(1332.30,1359.93) scale(1,1.07)" font-family='"Liberation Sans", sans-serif'><text x="0.00" y="0.00" font-size="32.2" >0. 0</text><path transform="translate(26.85,0.00) scale(0.01572,-0.01572)" d="M763 0L583 0L583 1098Q518 1038 412 979Q306 920 222 890L222 1057Q373 1125 486 1221Q599 1318 646 1409L763 1409Z"/></g>
<g transform="translate(1332.30,1258.96) scale(1,1.07)" font-family='"Liberation Sans", sans-serif'><text x="0.00" y="0.00" font-size="32.2" >0.  </text><path transform="translate(26.85,0.00) scale(0.01572,-0.01572)" d="M763 0L583 0L583 1098Q518 1038 412 979Q306 920 222 890L222 1057Q373 1125 486 1221Q599 1318 646 1409L763 1409Z"/><path transform="translate(44.76,0.00) scale(0.01572,-0.01572)" d="M763 0L583 0L583 1098Q518 1038 412 979Q306 920 222 890L222 1057Q373 1125 486 1221Q599 1318 646 1409L763 1409Z"/></g>
<g transform="translate(1332.30,1158.00) scale(1,1.07)" font-family='"Liberation Sans", sans-serif'><text x="0.00" y="0.00" font-size="32.2" >0. 2</text><path transform="translate(26.85,0.00) scale(0.01572,-0.01572)" d="M763 0L583 0L583 1098Q518 1038 412 979Q306 920 222 890L222 1057Q373 1125 486 1221Q599 1318 646 1409L763 1409Z"/></g>
<g transform="translate(251.80,2060.10) scale(1,1.07)" font-family='"Liberation Sans", sans-serif'><text x="-8.95" y="0.00" font-size="32.2" >0</text></g>
<g transform="translate(427.27,2060.10) scale(1,1.07)" font-family='"Liberation Sans", sans-serif'><text x="-17.91" y="0.00" font-size="32.2" >60</text></g>
<g transform="translate(602.73,2060.10) scale(1,1.07)" font-family='"Liberation Sans", sans-serif'><text x="-26.86" y="0.00" font-size="32.2" > 20</text><path transform="translate(-26.86,0.00) scale(0.01572,-0.01572)" d="M763 0L583 0L583 1098Q518 1038 412 979Q306 920 222 890L222 1057Q373 1125 486 1221Q599 1318 646 1409L763 1409Z"/></g>
<g transform="translate(778.20,2060.10) scale(1,1.07)" font-family='"Liberation Sans", sans-serif'><text x="-26.86" y="0.00" font-size="32.2" > 80</text><path transform="translate(-26.86,0.00) scale(0.01572,-0.01572)" d="M763 0L583 0L583 1098Q518 1038 412 979Q306 920 222 890L222 1057Q373 1125 486 1221Q599 1318 646 1409L763 1409Z"/></g>
<g transform="translate(953.67,2060.10) scale(1,1.07)" font-family='"Liberation Sans", sans-serif'><text x="-26.86" y="0.00" font-size="32.2" >240</text></g>
<g transform="translate(1129.13,2060.10) scale(1,1.07)" font-family='"Liberation Sans", sans-serif'><text x="-26.86" y="0.00" font-size="32.2" >300</text></g>
<g transform="translate(1304.60,2060.10) scale(1,1.07)" font-family='"Liberation Sans", sans-serif'><text x="-26.86" y="0.00" font-size="32.2" >360</text></g>
<text transform="translate(778.30,2124.60) scale(1,1.055)" font-family='"Liberation Sans", sans-serif' font-size="39.9" text-anchor="middle" >Circumferential Angle (°)</text>
<g transform="translate(56.80,1578.00) rotate(-90) scale(1,1.05)" font-family='"Liberation Sans", sans-serif'><text x="-144.50" y="0.00" font-size="39.8" >Shear Rate (S</text><text x="107.69" y="-17.00" font-size="26.5" >- </text><text x="131.25" y="0.00" font-size="39.8" >)</text><path transform="translate(116.51,-17.00) scale(0.01294,-0.01294)" d="M763 0L583 0L583 1098Q518 1038 412 979Q306 920 222 890L222 1057Q373 1125 486 1221Q599 1318 646 1409L763 1409Z"/></g>
<text transform="translate(1439.50,1572.20) rotate(-90) scale(1,1.05)" font-family='"Liberation Sans", sans-serif' font-size="39.6" text-anchor="middle" >Dynamic Viscosity (Pa.s)</text>
<text transform="translate(735.30,2196.50) scale(1,1.0)" font-family='"Liberation Serif", serif' font-size="43.2" text-anchor="middle" >(<tspan font-weight="bold">b</tspan>)</text>
<rect x="859.2" y="1176.6" width="441.2" height="87.8" fill="#000"/>
<rect x="847.2" y="1164.6" width="441.2" height="87.8" fill="#fff" stroke="#000" stroke-width="1.3"/>
<path d="M864.2,1192.9H931.2" stroke="#000" stroke-width="6" stroke-linecap="round"/>
<path d="M864.2,1230.9H896.2M916.7,1230.9H920.7" stroke="#000" stroke-width="6" stroke-linecap="round"/>
<g transform="translate(941.20,1203.50) scale(1,1.0)" font-family='"Liberation Sans", sans-serif'><text x="0.00" y="0.00" font-size="30.4" >Shear Rate (S</text><text x="192.63" y="-12.00" font-size="20" >- </text><text x="210.41" y="0.00" font-size="30.4" >)</text><path transform="translate(199.29,-12.00) scale(0.00977,-0.00977)" d="M763 0L583 0L583 1098Q518 1038 412 979Q306 920 222 890L222 1057Q373 1125 486 1221Q599 1318 646 1409L763 1409Z"/></g>
<text transform="translate(941.20,1241.40) scale(1,1.0)" font-family='"Liberation Sans", sans-serif' font-size="30.4" text-anchor="start" >Dynamic Viscosity (Pa.s)</text>
<g transform="translate(3.20,1101.20)" fill="none" stroke="#000" stroke-linecap="round"><path d="M1038.9,625.4 L1030.2,649.4" stroke-width="2.6"/><path d="M1033.4,637.5 Q1035.2,643.2 1039.6,641.8 Q1043,640.4 1045.2,636" stroke-width="2.3"/><path d="M1049.5,625.4 L1044.9,639.6 Q1044.6,643 1047.4,642" stroke-width="2.5"/><path d="M1047.4,642 L1050.6,638.6" stroke-width="1.1"/></g>
<g transform="translate(1053.77,1744.00) scale(1,1.085)" font-family='"Liberation Sans", sans-serif'><text x="0.00" y="0.00" font-size="37.4" letter-spacing="1.0" >=0.26 </text><path transform="translate(99.63,0.00) scale(0.01826,-0.01826)" d="M763 0L583 0L583 1098Q518 1038 412 979Q306 920 222 890L222 1057Q373 1125 486 1221Q599 1318 646 1409L763 1409Z"/></g>
<g transform="translate(3.20,1101.20)" fill="none" stroke="#000" stroke-linecap="round"><path d="M1176.3,630.3 Q1178.8,624.9 1181.9,624.8" stroke-width="1.0"/><path d="M1181.6,624.9 Q1184.1,625.4 1183.4,629.5 L1182.7,636.2" stroke-width="2.1"/><path d="M1194.5,625.4 L1179.8,646.8" stroke-width="2.3"/><ellipse cx="1178.5" cy="648.2" rx="2.2" ry="3.0" transform="rotate(35 1178.5 648.2)" fill="#000" stroke="none"/><circle cx="1190.4" cy="623.1" r="1.5" fill="#000" stroke="none"/></g>
<g transform="translate(1196.63,1725.10) scale(1,1.0)" font-family='"Liberation Sans", sans-serif'><text x="0.00" y="0.00" font-size="27.0" >(-0. 287)</text><path transform="translate(40.50,0.00) scale(0.01318,-0.01318)" d="M763 0L583 0L583 1098Q518 1038 412 979Q306 920 222 890L222 1057Q373 1125 486 1221Q599 1318 646 1409L763 1409Z"/></g>
</g>
</svg></body></html>
